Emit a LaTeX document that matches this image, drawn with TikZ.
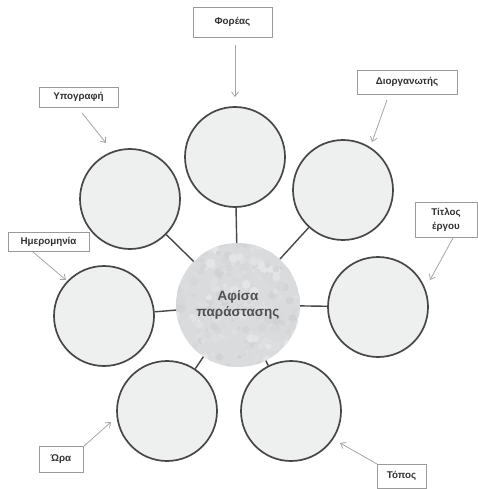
\documentclass[tikz,border=0pt]{standalone}
\usepackage{fontspec}
\setmainfont{Liberation Sans}
\usetikzlibrary{arrows.meta}
\definecolor{ring}{HTML}{474747}
\definecolor{bubblefill}{HTML}{EEEFEF}
\definecolor{boxline}{HTML}{9A9A9A}
\definecolor{arrowc}{HTML}{A6A6A6}
\definecolor{labeltext}{HTML}{333333}
\definecolor{hubtext}{HTML}{505050}
\definecolor{hubA}{HTML}{DADBDC}
\definecolor{hubB}{HTML}{E5E6E7}
\definecolor{hubC}{HTML}{D1D2D3}
\begin{document}
\begin{tikzpicture}[x=1pt,y=-1pt,
  bubble/.style={circle, draw=ring, line width=1.7pt, fill=bubblefill, minimum size=100pt, inner sep=0pt},
  hub/.style={circle, minimum size=124pt, inner sep=0pt, align=center, text=hubtext, font=\bfseries\fontsize{13.5}{16}\selectfont},
  tagbox/.style={draw=boxline, line width=0.8pt, fill=white, font=\bfseries\fontsize{9.8}{14}\selectfont, text=labeltext, inner sep=0pt, align=center},
  arr/.style={draw=arrowc, line width=0.8pt, -{Straight Barb[length=4.5pt,width=7pt]}},
  link/.style={draw=ring, line width=1.4pt}]
\useasboundingbox (0,0) rectangle (478,489);
\fill[white] (0,0) rectangle (478,489);

% textured hub
\begin{scope}
  \clip (238,305) circle (62pt);
  \fill[hubA] (238,305) circle (62pt);
  \pgfmathsetseed{11}
  \foreach \i in {1,...,320}{
    \pgfmathsetmacro{\px}{176+124*rnd}
    \pgfmathsetmacro{\py}{243+124*rnd}
    \pgfmathsetmacro{\pr}{1.5+3.5*rnd}
    \pgfmathtruncatemacro{\pc}{100*rnd}
    \fill[hubB!\pc!hubC] (\px,\py) circle (\pr pt);
  }
\end{scope}
\node[hub] (hub) at (238,305) {Αφίσα\\παράστασης};

% bubbles
\node[bubble] (top) at (235,157) {};
\node[bubble] (ul)  at (130,199) {};
\node[bubble] (ur)  at (343,190) {};
\node[bubble] (rt)  at (378,307) {};
\node[bubble] (lt)  at (104,316) {};
\node[bubble] (bl)  at (167,411) {};
\node[bubble] (br)  at (291,411) {};

% links
\foreach \b in {top,ul,ur,rt,lt,bl,br}{
  \draw[link] (hub) -- (\b);
}

% label boxes
\node[tagbox, minimum width=79pt, minimum height=30pt] (forea) at (232.5,22) {Φορέας};
\node[tagbox, minimum width=79pt, minimum height=20pt] (ypog)  at (78.5,97) {Υπογραφή};
\node[tagbox, minimum width=81pt, minimum height=19pt] (imer)  at (48.5,241.5) {Ημερομηνία};
\node[tagbox, minimum width=44pt, minimum height=26pt] (ora)   at (61,459) {Ώρα};
\node[tagbox, minimum width=100pt, minimum height=24pt] (dior) at (407,82) {Διοργανωτής};
\node[tagbox, minimum width=62pt, minimum height=35pt] (titl)  at (446,219.5) {Τίτλος\\έργου};
\node[tagbox, minimum width=49pt, minimum height=24pt] (topo)  at (401.5,476) {Τόπος};

% arrow end points
\coordinate (fS) at (235,45);  \coordinate (fE) at (235,97);
\coordinate (yS) at (82,113);  \coordinate (yE) at (106,143);
\coordinate (iS) at (33,252);  \coordinate (iE) at (66,280);
\coordinate (oS) at (83,447);  \coordinate (oE) at (111,422);
\coordinate (dS) at (387,100); \coordinate (dE) at (372,142);
\coordinate (tS) at (453,238); \coordinate (tE) at (430,280);
\coordinate (pS) at (377,464); \coordinate (pE) at (340,443);

\draw[arr] (fS) -- (fE);
\draw[arr] (yS) -- (yE);
\draw[arr] (iS) -- (iE);
\draw[arr] (oS) -- (oE);
\draw[arr] (dS) -- (dE);
\draw[arr] (tS) -- (tE);
\draw[arr] (pS) -- (pE);
\end{tikzpicture}
\end{document}
